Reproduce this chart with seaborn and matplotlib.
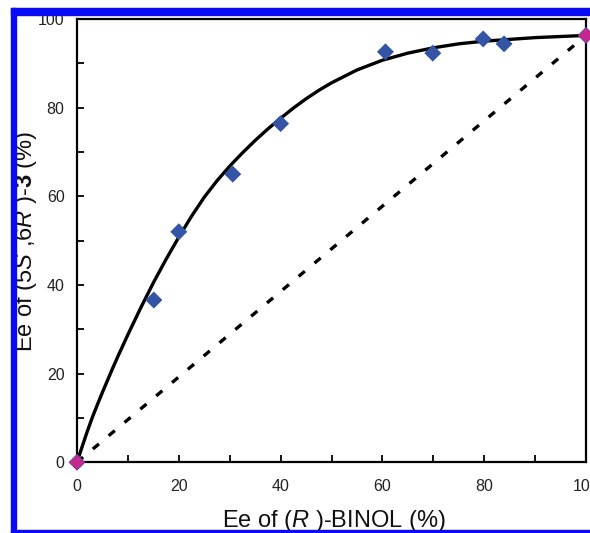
import matplotlib
matplotlib.use("Agg")
import matplotlib.pyplot as plt
from matplotlib.patches import Rectangle
from matplotlib.ticker import MultipleLocator
import seaborn as sns
import pandas as pd

# ---- data ----
exp_x = [0, 15.1, 20.0, 30.6, 40.0, 60.6, 69.9, 79.8, 83.9, 100]
exp_y = [0, 36.6, 52.0, 65.0, 76.4, 92.6, 92.3, 95.5, 94.4, 96.3]
end_x = [0, 100]
end_y = [0, 96.3]
fit_x = [0, 1, 2, 3, 4, 5, 6, 7, 8, 9, 10, 12.5, 15, 17.5, 20, 22.5, 25, 27.5, 30,
         32.5, 35, 37.5, 40, 42.5, 45, 47.5, 50, 55, 60, 65, 70, 75, 80, 85, 90, 95, 100]
fit_y = [0, 3.5, 6.9, 10.1, 13.0, 15.8, 18.5, 21.2, 23.8, 26.3, 28.8, 34.8, 40.5, 45.8,
         50.8, 55.5, 59.8, 63.5, 66.8, 69.8, 72.6, 75.2, 77.6, 79.9, 82.0, 83.9, 85.6,
         88.5, 90.7, 92.3, 93.5, 94.4, 95.0, 95.4, 95.8, 96.05, 96.3]
lin_x = [0, 100]
lin_y = [0, 96.3]
x_ticks = [0, 20, 40, 60, 80, 100]
y_ticks = [0, 20, 40, 60, 80, 100]

sns.set_theme(style="white")
plt.rcParams["font.family"] = ["Liberation Sans", "DejaVu Sans"]
plt.rcParams["mathtext.fontset"] = "custom"
plt.rcParams["mathtext.rm"] = "Liberation Sans"
plt.rcParams["mathtext.it"] = "Liberation Sans:italic"
plt.rcParams["mathtext.bf"] = "Liberation Sans:bold"

W, H = 590, 533
fig = plt.figure(figsize=(W / 100, H / 100), dpi=100)
ax = fig.add_axes([77 / W, (H - 462.3) / H, 509 / W, (462.3 - 19) / H])

df_fit = pd.DataFrame({"x": fit_x, "y": fit_y})
df_lin = pd.DataFrame({"x": lin_x, "y": lin_y})
df_exp = pd.DataFrame({"x": exp_x, "y": exp_y})
df_end = pd.DataFrame({"x": end_x, "y": end_y})

sns.lineplot(data=df_lin, x="x", y="y", ax=ax, color="black", lw=2.4,
             sort=False, zorder=2)
ax.lines[-1].set_dashes((2.4, 3.8))
sns.lineplot(data=df_fit, x="x", y="y", ax=ax, color="black", lw=2.4, zorder=3)
ax.lines[-1].set_solid_joinstyle("round")
sns.scatterplot(data=df_exp, x="x", y="y", ax=ax, marker="D", s=75,
                color="#3454A6", edgecolor="none", zorder=4, clip_on=False)
sns.scatterplot(data=df_end, x="x", y="y", ax=ax, marker="D", s=60,
                color="#C8288E", edgecolor="none", zorder=5, clip_on=False)

ax.set_xlim(0, 100)
ax.set_ylim(0, 100)
ax.set_xticks(x_ticks)
ax.set_yticks(y_ticks)
ax.xaxis.set_minor_locator(MultipleLocator(10))
ax.yaxis.set_minor_locator(MultipleLocator(10))
ax.tick_params(which="both", direction="in", length=5, width=1.3, color="black",
               bottom=True, left=True, top=False, right=False)
ax.tick_params(axis="x", labelsize=11.5, pad=12, labelcolor="#222222")
ax.tick_params(axis="y", labelsize=11.5, pad=9, labelcolor="#222222")
for s in ax.spines.values():
    s.set_visible(True)
    s.set_color("black")
    s.set_linewidth(1.6)
ax.set_xlabel("")
ax.set_ylabel("")

fig.text(333.5 / W, (H - 521) / H, r"Ee of ($\it{R}$ )-BINOL (%)", fontsize=17,
         ha="center", va="center", color="#111111")
fig.text(26.5 / W, (H - 241) / H, r"Ee of (5$\it{S}$ ,6$\it{R}$ )-$\bf{3}$ (%)", fontsize=17,
         ha="center", va="center", rotation=90, color="#111111")

blue = "#0A0AF5"
fig.add_artist(Rectangle((11 / W, 0), 5 / W, (H - 8) / H, transform=fig.transFigure,
                         color=blue, zorder=20))
fig.add_artist(Rectangle((11 / W, (H - 15) / H), (W - 11) / W, 7 / H, transform=fig.transFigure,
                         color=blue, zorder=20))
fig.add_artist(Rectangle((11 / W, 0), (W - 11) / W, 3 / H, transform=fig.transFigure,
                         color=blue, zorder=20))

fig.savefig("out.png", dpi=100)
